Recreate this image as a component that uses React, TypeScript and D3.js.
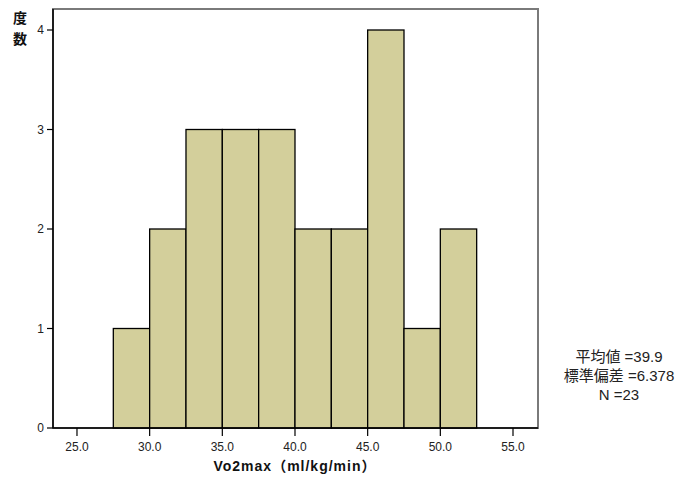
import * as d3 from "d3";

// bins of Vo2max (lower edge, upper edge) and their counts
const binStarts = [27.5, 30, 32.5, 35, 37.5, 40, 42.5, 45, 47.5, 50];
const binWidth = 2.5;
const counts = [1, 2, 3, 3, 3, 2, 2, 4, 1, 2];
const xTicks = [25, 30, 35, 40, 45, 50, 55];
const yTicks = [0, 1, 2, 3, 4];
const statLines = ["平均値 =39.9", "標準偏差 =6.378", "N =23"];

const W = 682;
const H = 477;
const plot = { left: 53, right: 538, top: 9, bottom: 428 };
const font = "Arial, 'Liberation Sans', 'Noto Sans CJK JP', sans-serif";

export default function App() {
  const x = d3.scaleLinear().domain([23.35, 56.72]).range([plot.left, plot.right]);
  const y = d3.scaleLinear().domain([0, 4.0]).range([plot.bottom, 30]);

  return (
    <svg width={W} height={H} style={{ position: "absolute", left: 0, top: 0, background: "#fff" }}>
      {/* frame */}
      <rect
        x={plot.left}
        y={plot.top}
        width={plot.right - plot.left}
        height={plot.bottom - plot.top}
        fill="none"
        stroke="#7a7a7a"
        strokeWidth={2}
      />
      {binStarts.map((s, i) => (
        <rect
          key={s}
          x={x(s)}
          y={y(counts[i])}
          width={x(s + binWidth) - x(s)}
          height={y(0) - y(counts[i])}
          fill="#d3cf9b"
          stroke="#000"
          strokeWidth={1.3}
        />
      ))}
      {/* axes lines */}
      <line x1={plot.left} x2={plot.left} y1={plot.top} y2={plot.bottom} stroke="#000" strokeWidth={1.5} />
      <line x1={plot.left} x2={plot.right} y1={plot.bottom} y2={plot.bottom} stroke="#000" strokeWidth={1.5} />
      {yTicks.map((t) => (
        <g key={t}>
          <line x1={plot.left - 6} x2={plot.left} y1={y(t)} y2={y(t)} stroke="#000" strokeWidth={1.2} />
          <text x={plot.left - 9} y={y(t)} dy="0.35em" textAnchor="end" fontFamily={font} fontSize={12} fill="#222">
            {t}
          </text>
        </g>
      ))}
      {xTicks.map((t) => (
        <g key={t}>
          <line x1={x(t)} x2={x(t)} y1={plot.bottom} y2={plot.bottom + 8} stroke="#000" strokeWidth={1.2} />
          <text x={x(t)} y={plot.bottom + 23} textAnchor="middle" fontFamily={font} fontSize={12} fill="#222">
            {t.toFixed(1)}
          </text>
        </g>
      ))}
      <text x={295} y={471} textAnchor="middle" fontFamily={font} fontSize={14} fontWeight="bold" letterSpacing={1} fill="#111">
        Vo2max（ml/kg/min）
      </text>
      <text x={20} y={23} textAnchor="middle" fontFamily={font} fontSize={14} fontWeight="bold" fill="#111">
        度
      </text>
      <text x={20} y={44} textAnchor="middle" fontFamily={font} fontSize={14} fontWeight="bold" fill="#111">
        数
      </text>
      {statLines.map((s, i) => (
        <text key={s} x={619} y={362 + i * 19} textAnchor="middle" fontFamily={font} fontSize={15} fill="#222">
          {s}
        </text>
      ))}
    </svg>
  );
}
